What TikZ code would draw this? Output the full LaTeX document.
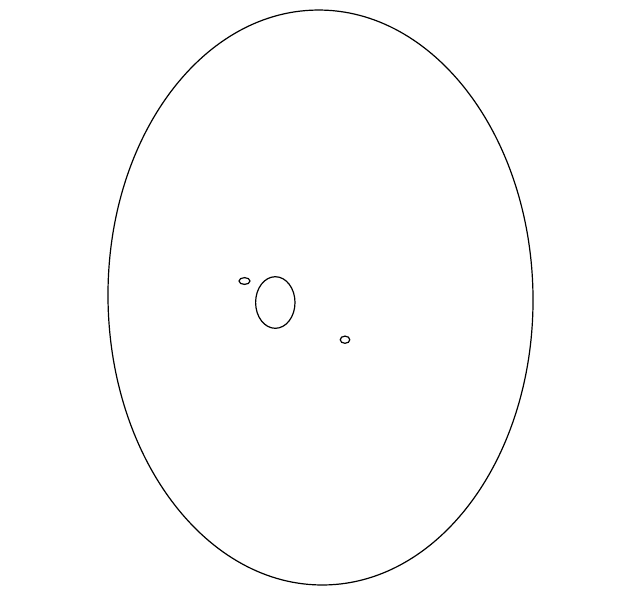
\documentclass[tikz,border=0pt]{standalone}
\usepackage{tikz}

\begin{document}
\begin{tikzpicture}[x=0.5pt,y=-0.5pt]
            \tikzstyle{every path}=[line width=0.6pt];
            \useasboundingbox (0,0) rectangle (640,596);
            % outer rim, very slightly tilted
            \draw[rotate around={0.8:(320.5,297.5)}] (320.5,297.5) ellipse (212.5 and 287.5);
            % holes
            \draw (275.3,302.5) ellipse (19.7 and 25.8);
            \draw (244.5,281) ellipse (5.5 and 3.4);
            \draw (345,339.7) ellipse (4.8 and 3.6);
        \end{tikzpicture}
\end{document}
